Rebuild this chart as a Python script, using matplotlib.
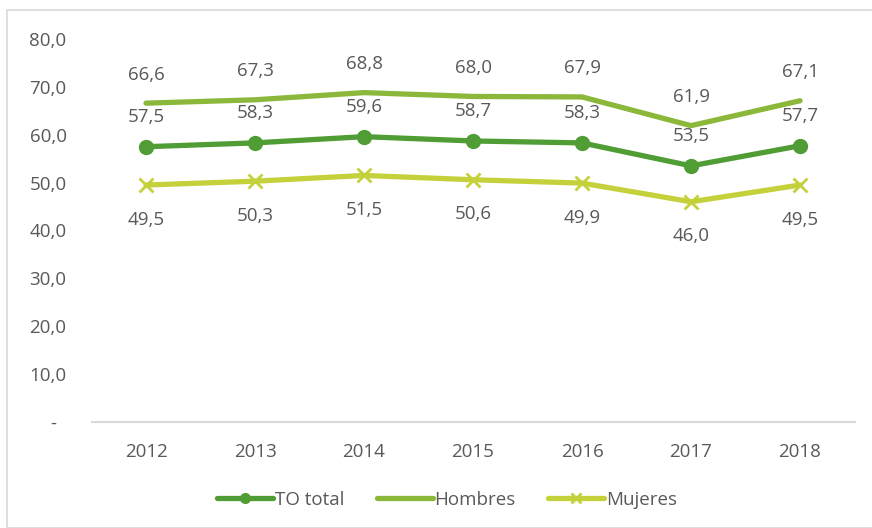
import matplotlib.pyplot as plt
from matplotlib.patches import Rectangle

# data
years = ["2012", "2013", "2014", "2015", "2016", "2017", "2018"]
to_total = [57.5, 58.3, 59.6, 58.7, 58.3, 53.5, 57.7]
hombres = [66.6, 67.3, 68.8, 68.0, 67.9, 61.9, 67.1]
mujeres = [49.5, 50.3, 51.5, 50.6, 49.9, 46.0, 49.5]
yticks = [0, 10, 20, 30, 40, 50, 60, 70, 80]

c_total = "#4f9d34"
c_hom = "#8bb83a"
c_muj = "#c5d13a"
txt = "#595959"

plt.rcParams['font.family'] = ['Open Sans', 'DejaVu Sans']

fig = plt.figure(figsize=(8.72, 5.28), dpi=100)
ax = fig.add_axes([91.5 / 872, 1 - 422 / 528, 763 / 872, 383 / 528])

# chart border
fig.patches.append(Rectangle((7 / 872, 0), 1, 1 - 10 / 528, transform=fig.transFigure,
                             fill=False, edgecolor="#d9d9d9", linewidth=1.2))

x = range(len(years))
ax.plot(x, to_total, color=c_total, lw=3.8, marker="o", ms=10, label="TO total",
        solid_capstyle="round", zorder=3)
ax.plot(x, hombres, color=c_hom, lw=3.8, label="Hombres", solid_capstyle="round", zorder=3)
ax.plot(x, mujeres, color=c_muj, lw=3.8, marker="x", ms=10, mew=2, label="Mujeres",
        solid_capstyle="round", zorder=3)

fs = 13.5
fmt = lambda v: f"{v:.1f}".replace(".", ",")
for i in x:
    ax.annotate(fmt(hombres[i]), (i, hombres[i]), xytext=(0, 20.5), textcoords="offset points",
                ha="center", va="center", color=txt, fontsize=fs)
    ax.annotate(fmt(to_total[i]), (i, to_total[i]), xytext=(0, 21.5), textcoords="offset points",
                ha="center", va="center", color=txt, fontsize=fs)
    ax.annotate(fmt(mujeres[i]), (i, mujeres[i]), xytext=(0, -25), textcoords="offset points",
                ha="center", va="center", color=txt, fontsize=fs)

ax.set_xlim(-0.5, len(years) - 0.5)
ax.set_ylim(0, 80)
ax.set_xticks(list(x))
ax.set_xticklabels(years)
ax.set_yticks(yticks)
ax.set_yticklabels(["-" if v == 0 else fmt(v) for v in yticks])
ax.tick_params(length=0, labelsize=fs, colors=txt)
ax.tick_params(axis="y", pad=18)
ax.tick_params(axis="x", pad=15)
ax.get_yticklabels()[0].set_x(-0.013)
for s in ["top", "right", "left"]:
    ax.spines[s].set_visible(False)
ax.spines["bottom"].set_color("#d9d9d9")
ax.spines["bottom"].set_linewidth(1.5)

leg = fig.legend(loc="center", bbox_to_anchor=(447 / 872, 1 - 500 / 528), ncol=3,
                 frameon=False, fontsize=fs, handlelength=3.0, handletextpad=0.1,
                 columnspacing=1.7)
for t in leg.get_texts():
    t.set_color(txt)
for h in leg.legend_handles:
    h.set_markersize(7)

fig.savefig("out.png", dpi=100)
